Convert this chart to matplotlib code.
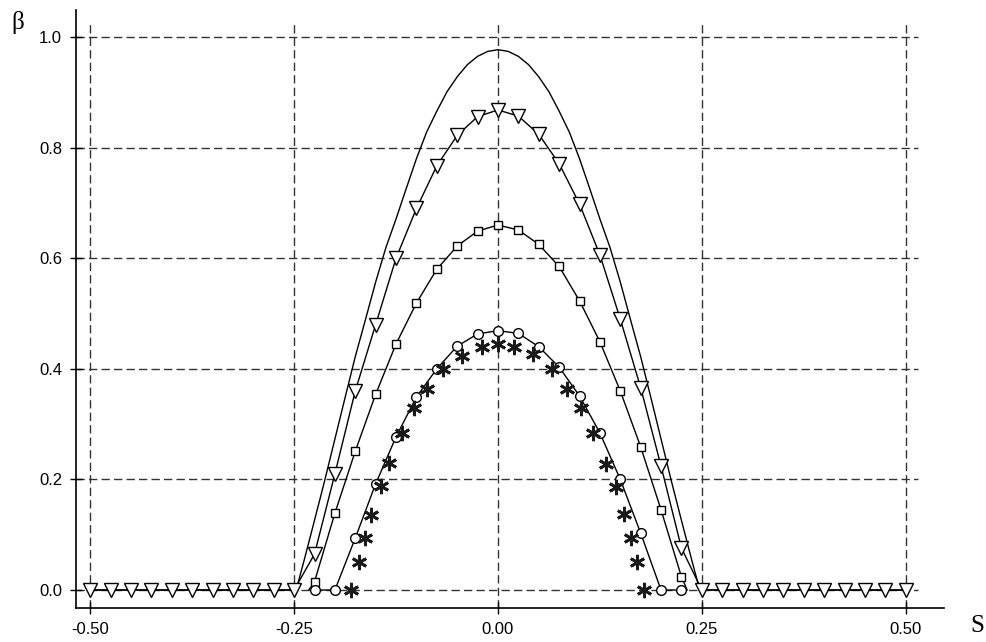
import numpy as np
import matplotlib
matplotlib.use('Agg')
import matplotlib.pyplot as plt

plt.rcParams['font.family'] = ['Liberation Sans', 'DejaVu Sans']
plt.rcParams['axes.unicode_minus'] = False

# solid curve without markers
s_solid = [-0.5, -0.2475, -0.2375, -0.225, -0.2125, -0.2, -0.1875, -0.175, -0.1625, -0.15,
           -0.1375, -0.125, -0.1125, -0.1, -0.0875, -0.075, -0.0625, -0.05, -0.0375, -0.025,
           -0.0125, 0.0, 0.0125, 0.025, 0.0375, 0.05, 0.0625, 0.075, 0.0875, 0.1, 0.1125,
           0.125, 0.1375, 0.15, 0.1625, 0.175, 0.1875, 0.2, 0.2125, 0.225, 0.2375, 0.2475, 0.5]
b_solid = [0.0, 0.0, 0.055, 0.126, 0.198, 0.273, 0.348, 0.422, 0.489, 0.557,
           0.619, 0.671, 0.726, 0.780, 0.828, 0.866, 0.901, 0.928, 0.950, 0.965,
           0.974, 0.977, 0.974, 0.965, 0.950, 0.928, 0.901, 0.866, 0.828, 0.780, 0.726,
           0.671, 0.619, 0.557, 0.489, 0.422, 0.348, 0.273, 0.198, 0.126, 0.055, 0.0, 0.0]

# triangles
s_tri = np.round(np.arange(-0.5, 0.5001, 0.025), 4)
b_tri_mid = [0.065, 0.21, 0.36, 0.48, 0.60, 0.69, 0.767, 0.822, 0.856, 0.868,
             0.857, 0.824, 0.771, 0.698, 0.606, 0.49, 0.366, 0.224, 0.076]
b_tri = [0.0] * 11 + b_tri_mid + [0.0] * 11

# squares
s_sq = [-0.225, -0.2, -0.175, -0.15, -0.125, -0.1, -0.075, -0.05, -0.025, 0.0,
        0.025, 0.05, 0.075, 0.1, 0.125, 0.15, 0.175, 0.2, 0.225]
b_sq = [0.015, 0.139, 0.251, 0.354, 0.445, 0.519, 0.58, 0.622, 0.649, 0.66,
        0.651, 0.625, 0.585, 0.523, 0.449, 0.36, 0.259, 0.145, 0.024]
sq_ends = [-0.232, 0.232]

# circles
s_circ = [-0.225, -0.2, -0.175, -0.15, -0.125, -0.1, -0.075, -0.05, -0.025, 0.0,
          0.025, 0.05, 0.075, 0.1, 0.125, 0.15, 0.175, 0.2, 0.225]
b_circ = [0.0, 0.0, 0.094, 0.192, 0.277, 0.349, 0.40, 0.441, 0.463, 0.469,
          0.464, 0.44, 0.403, 0.351, 0.284, 0.2, 0.103, 0.0, 0.0]

# stars (no line)
s_star = [-0.18, -0.17, -0.163, -0.156, -0.144, -0.134, -0.118, -0.103, -0.087, -0.067,
          -0.044, -0.02, 0.0, 0.02, 0.043, 0.066, 0.085, 0.102, 0.117, 0.133,
          0.145, 0.155, 0.163, 0.171, 0.179]
b_star = [0.0, 0.05, 0.094, 0.136, 0.188, 0.229, 0.284, 0.329, 0.363, 0.4,
          0.423, 0.439, 0.445, 0.44, 0.427, 0.4, 0.363, 0.33, 0.284, 0.228,
          0.186, 0.137, 0.094, 0.051, 0.0]

xticks = [-0.5, -0.25, 0.0, 0.25, 0.5]
xlabels = ['-0.50', '-0.25', '0.00', '0.25', '0.50']
yticks = [0.0, 0.2, 0.4, 0.6, 0.8, 1.0]
ylabels = ['0.0', '0.2', '0.4', '0.6', '0.8', '1.0']

W, H = 986, 642
fig = plt.figure(figsize=(W / 100, H / 100), dpi=100)
ax = fig.add_axes([76 / W, 1 - 608 / H, (944 - 76) / W, (608 - 10) / H])
ax.set_xlim(-0.5175, 0.547)
ax.set_ylim(-0.0325, 1.0488)

gkw = dict(color='#333333', lw=1.0, dashes=(6, 3), zorder=1)
for yv in yticks:
    ax.plot([-0.5175, 0.515], [yv, yv], **gkw)
for xv in xticks:
    ax.plot([xv, xv], [-0.0325, 1.025], **gkw)

lk = dict(color='black', lw=1.0, zorder=2)
ax.plot(s_solid, b_solid, **lk)
ax.plot([-0.5, -0.25] + list(s_tri[11:30]) + [0.25, 0.5],
        [0, 0] + b_tri_mid + [0, 0], **lk)
ax.plot([sq_ends[0]] + s_sq + [sq_ends[1]], [0] + b_sq + [0], **lk)
ax.plot(s_circ, b_circ, **lk)

mk = dict(ls='none', mfc='white', mec='black', mew=1.0, zorder=3)
ax.plot(s_sq, b_sq, marker='s', ms=5.5, **mk)
ax.plot(s_circ, b_circ, marker='o', ms=7, **mk)
ax.plot(s_star, b_star, ls='none', marker=(6, 2, 0), ms=11, mec='#1a1a1a', mew=2.0, zorder=4)
ax.plot(s_tri, b_tri, marker='v', ms=9.5, **mk)

for sp in ['top', 'right']:
    ax.spines[sp].set_visible(False)
for sp in ['left', 'bottom']:
    ax.spines[sp].set_linewidth(1.2)

ax.set_xticks(xticks)
ax.set_xticklabels(xlabels)
ax.set_yticks(yticks)
ax.set_yticklabels(ylabels)
ax.tick_params(direction='inout', length=8, width=1, pad=6, labelsize=12)

fig.text(18 / W, 1 - 23 / H, '\u03b2', fontsize=18, family='Liberation Serif',
         ha='center', va='center')
fig.text(977 / W, 1 - 626 / H, 'S', fontsize=18, family='Liberation Serif',
         ha='center', va='center')

fig.savefig('out.png', dpi=100)
